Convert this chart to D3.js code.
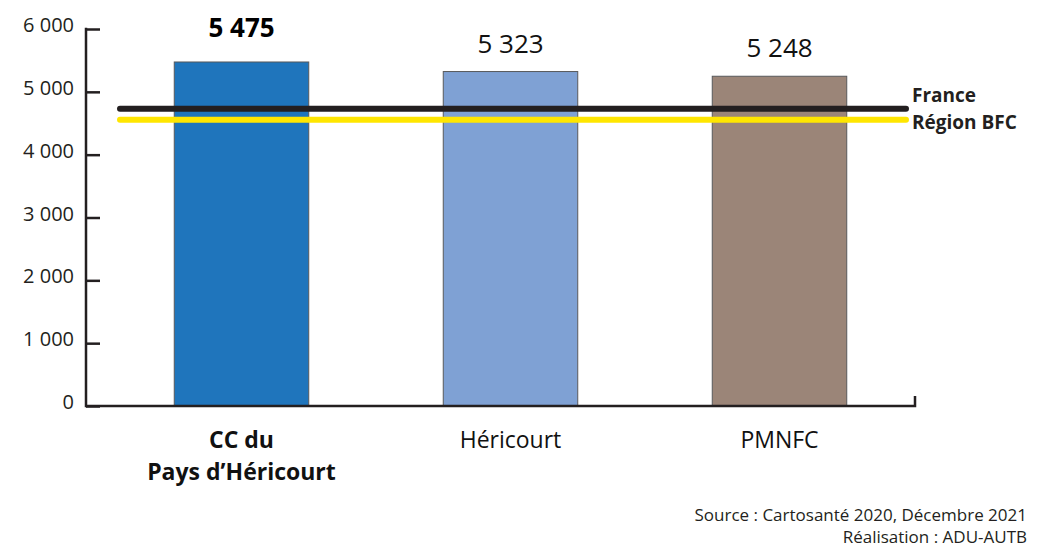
<!DOCTYPE html>
<html>
<head>
<meta charset="utf-8">
<script src="https://cdn.jsdelivr.net/npm/d3@7"></script>
<style>
  html, body { margin: 0; padding: 0; background: #fff; }
  svg { display: block; font-family: "Open Sans", "DejaVu Sans", sans-serif; }
</style>
</head>
<body>
<svg id="chart" width="1048" height="553"></svg>
<script>
// Territories compared, and their values
const categories = ["CC du\nPays d\u2019H\u00e9ricourt", "H\u00e9ricourt", "PMNFC"];
const values = [5475, 5323, 5248];
const highlighted = [true, false, false];
const barColors = ["#1f75bc", "#7fa1d4", "#9b8578"];

// Reference levels drawn as horizontal lines
const refNames = ["France", "R\u00e9gion BFC"];
const refValues = [4730, 4555];
const refColors = ["#231f20", "#ffe600"];

// Y axis ticks
const yTicks = [0, 1000, 2000, 3000, 4000, 5000, 6000];

const sourceLines = ["Source : Cartosant\u00e9 2020, D\u00e9cembre 2021", "R\u00e9alisation : ADU-AUTB"];

const svg = d3.select("#chart");
const fmt = v => d3.format(",")(v).replace(/,/g, "\u00a0");

const y = d3.scaleLinear().domain([0, 6000]).range([406, 29]);
const x = d3.scaleBand().domain(categories).range([107, 914])
  .paddingInner(0.5).paddingOuter(0.25);

const axisColor = "#231f20";

// Bars
svg.append("g").selectAll("rect").data(values).join("rect")
  .attr("x", (d, i) => x(categories[i]))
  .attr("y", d => y(d))
  .attr("width", x.bandwidth())
  .attr("height", d => y(0) - y(d))
  .attr("fill", (d, i) => barColors[i])
  .attr("stroke", "#58595b")
  .attr("stroke-width", 1);

// Y axis (ticks pointing inward, labels slightly raised)
const yAxis = d3.axisRight(y).tickValues(yTicks).tickSize(14).tickFormat("");
const gy = svg.append("g").attr("transform", "translate(86,0)").call(yAxis);
gy.select(".domain").remove();
gy.selectAll(".tick line").attr("stroke", axisColor).attr("stroke-width", 2.5);
svg.append("line").attr("x1", 86).attr("x2", 86).attr("y1", y(6000) - 1.2).attr("y2", y(0) + 1.2)
  .attr("stroke", axisColor).attr("stroke-width", 2.5);
svg.append("g").selectAll("text").data(yTicks).join("text")
  .attr("x", 74).attr("y", d => y(d) + 3)
  .attr("text-anchor", "end")
  .attr("font-size", 20).attr("fill", "#231f20")
  .text(d => fmt(d));

// Baseline with end tick
svg.append("path")
  .attr("d", d3.line()([[86, y(0)], [915, y(0)], [915, y(0) - 10]]))
  .attr("fill", "none").attr("stroke", axisColor).attr("stroke-width", 2.5);

// Reference lines
svg.append("g").selectAll("line").data(refValues).join("line")
  .attr("x1", 120).attr("x2", 906)
  .attr("y1", d => y(d)).attr("y2", d => y(d))
  .attr("stroke", (d, i) => refColors[i])
  .attr("stroke-width", 6)
  .attr("stroke-linecap", "round");
svg.append("g").selectAll("text").data(refNames).join("text")
  .attr("x", 912).attr("y", (d, i) => i === 0 ? 102 : 129)
  .attr("font-size", 19).attr("font-weight", "bold").attr("fill", "#231f20")
  .text(d => d);

// Value labels
svg.append("g").selectAll("text").data(values).join("text")
  .attr("x", (d, i) => x(categories[i]) + x.bandwidth() / 2)
  .attr("y", (d, i) => y(d) - (highlighted[i] ? 25 : 19))
  .attr("text-anchor", "middle")
  .attr("font-size", 26)
  .attr("font-weight", (d, i) => highlighted[i] ? "bold" : "normal")
  .attr("fill", (d, i) => highlighted[i] ? "#000" : "#111")
  .text(d => fmt(d));

// Category labels
categories.forEach((c, i) => {
  const t = svg.append("text")
    .attr("x", x(c) + x.bandwidth() / 2)
    .attr("y", 448)
    .attr("text-anchor", "middle")
    .attr("font-size", 23)
    .attr("font-weight", highlighted[i] ? "bold" : "normal")
    .attr("fill", "#111");
  c.split("\n").forEach((line, j) => {
    t.append("tspan").attr("x", x(c) + x.bandwidth() / 2).attr("dy", j === 0 ? 0 : 32).text(line);
  });
});

// Source
svg.append("g").selectAll("text").data(sourceLines).join("text")
  .attr("x", 1027).attr("y", (d, i) => 521 + i * 22)
  .attr("text-anchor", "end")
  .attr("font-size", 17).attr("fill", "#231f20")
  .text(d => d);
</script>
</body>
</html>
